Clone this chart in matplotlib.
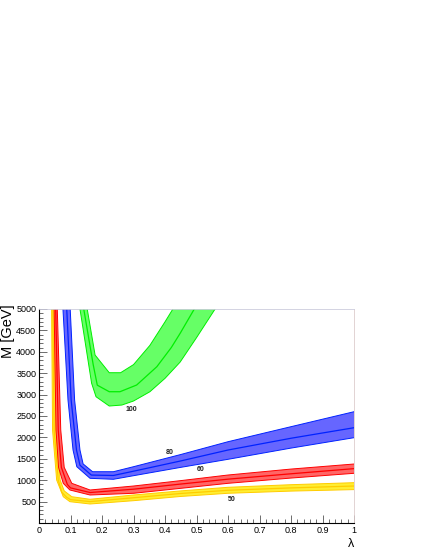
#!/usr/bin/env python3

import matplotlib
matplotlib.use('Agg')
import matplotlib.pyplot as plt
from matplotlib.ticker import MultipleLocator, FixedLocator

# lambda, M [GeV] points: outer edge, central line, inner edge

# M = 50
lam_50_lo = [0.040, 0.043, 0.056, 0.077, 0.098, 0.162, 0.30, 0.45, 0.60, 0.80, 1.00]
m_50_lo = [5000, 2172, 1004, 614, 498, 444, 521, 620, 694, 745, 780]
lam_50_c = [0.044, 0.048, 0.061, 0.072, 0.088, 0.100, 0.162, 0.30, 0.45, 0.60, 0.80, 1.00]
m_50_c = [5000, 2172, 1004, 720, 600, 545, 500, 590, 690, 764, 820, 864]
lam_50_hi = [0.048, 0.054, 0.067, 0.080, 0.104, 0.162, 0.30, 0.45, 0.60, 0.80, 1.00]
m_50_hi = [5000, 2172, 1004, 750, 614, 554, 654, 750, 834, 895, 942]

# M = 60
lam_60_lo = [0.048, 0.054, 0.062, 0.077, 0.098, 0.162, 0.30, 0.45, 0.60, 0.80, 1.00]
m_60_lo = [5000, 2172, 1300, 927, 771, 654, 694, 810, 927, 1050, 1161]
lam_60_c = [0.053, 0.061, 0.071, 0.090, 0.100, 0.162, 0.30, 0.45, 0.60, 0.80, 1.00]
m_60_c = [5000, 2172, 1300, 900, 820, 712, 790, 910, 1024, 1150, 1270]
lam_60_hi = [0.058, 0.069, 0.080, 0.104, 0.162, 0.30, 0.45, 0.60, 0.80, 1.00]
m_60_hi = [5000, 2172, 1300, 927, 771, 864, 990, 1121, 1260, 1378]

# M = 80
lam_80_lo = [0.076, 0.092, 0.108, 0.120, 0.162, 0.236, 0.30, 0.45, 0.60, 0.80, 1.00]
m_80_lo = [5000, 2873, 1705, 1315, 1044, 1021, 1105, 1300, 1488, 1750, 1993]
lam_80_c = [0.088, 0.102, 0.119, 0.130, 0.166, 0.236, 0.30, 0.45, 0.60, 0.80, 1.00]
m_80_c = [5000, 2873, 1705, 1350, 1120, 1110, 1210, 1450, 1705, 1980, 2226]
lam_80_hi = [0.099, 0.113, 0.130, 0.140, 0.170, 0.236, 0.30, 0.45, 0.60, 0.80, 1.00]
m_80_hi = [5000, 2873, 1705, 1380, 1198, 1198, 1315, 1600, 1899, 2250, 2600]

# M = 100
lam_100_lo = [0.130, 0.167, 0.181, 0.223, 0.263, 0.30, 0.352, 0.40, 0.448, 0.50, 0.559]
m_100_lo = [5000, 3264, 2950, 2733, 2756, 2850, 3067, 3380, 3760, 4330, 5000]
lam_100_c = [0.142, 0.172, 0.185, 0.223, 0.257, 0.310, 0.374, 0.420, 0.448, 0.493]
m_100_c = [5000, 3700, 3220, 3067, 3067, 3224, 3651, 4100, 4431, 5000]
lam_100_hi = [0.153, 0.178, 0.223, 0.259, 0.300, 0.352, 0.400, 0.425]
m_100_hi = [5000, 3924, 3511, 3511, 3700, 4150, 4700, 5000]

x_ticks = [0, 0.1, 0.2, 0.3, 0.4, 0.5, 0.6, 0.7, 0.8, 0.9, 1.0]
x_labels = ['0', '0.1', '0.2', '0.3', '0.4', '0.5', '0.6', '0.7', '0.8', '0.9', '1']
y_ticks = [500, 1000, 1500, 2000, 2500, 3000, 3500, 4000, 4500, 5000]

bands = [
    # lo, central, hi, fill colour, line colour, label, label position
    ((lam_50_lo, m_50_lo), (lam_50_c, m_50_c), (lam_50_hi, m_50_hi), '#ffee33', '#ffcc00', '50', (0.612, 553)),
    ((lam_60_lo, m_60_lo), (lam_60_c, m_60_c), (lam_60_hi, m_60_hi), '#ff6666', '#ff0000', '60', (0.513, 1254)),
    ((lam_80_lo, m_80_lo), (lam_80_c, m_80_c), (lam_80_hi, m_80_hi), '#6666ff', '#0022ff', '80', (0.414, 1651)),
    ((lam_100_lo, m_100_lo), (lam_100_c, m_100_c), (lam_100_hi, m_100_hi), '#66ff66', '#00ee00', '100', (0.294, 2663)),
]


def plot_bands():
    fig = plt.figure(figsize=(4.25, 5.5), dpi=100)
    ax = fig.add_axes([0.0918, 0.0491, 0.7412, 0.3891])

    for lo, c, hi, fcol, lcol, lab, pos in bands:
        xs = list(lo[0]) + list(hi[0])[::-1]
        ys = list(lo[1]) + list(hi[1])[::-1]
        ax.fill(xs, ys, color=fcol, lw=0)
        ax.plot(lo[0], lo[1], color=lcol, lw=0.7)
        ax.plot(hi[0], hi[1], color=lcol, lw=0.7)
        ax.plot(c[0], c[1], color=lcol, lw=0.9)
        ax.text(pos[0], pos[1], lab, fontsize=5, fontweight='bold', color='#222222',
                ha='center', va='center', family='Liberation Sans')

    ax.set_xlim(0, 1)
    ax.set_ylim(0, 5000)

    ax.xaxis.set_major_locator(FixedLocator(x_ticks))
    ax.xaxis.set_minor_locator(MultipleLocator(0.02))
    ax.set_xticklabels(x_labels)
    ax.yaxis.set_major_locator(FixedLocator(y_ticks))
    ax.yaxis.set_minor_locator(MultipleLocator(100))

    ax.tick_params(which='both', direction='in', top=False, right=False,
                   labelsize=6.5, width=0.6, color='#555555', pad=2)
    ax.tick_params(which='major', length=6)
    ax.tick_params(which='minor', length=3)
    for lbl in ax.get_xticklabels() + ax.get_yticklabels():
        lbl.set_family('Liberation Sans')

    ax.spines['left'].set_linewidth(0.8)
    ax.spines['bottom'].set_linewidth(0.8)
    ax.spines['top'].set_color('#ccccdd')
    ax.spines['right'].set_color('#ddcccc')
    ax.spines['top'].set_linewidth(0.6)
    ax.spines['right'].set_linewidth(0.6)

    fig.text(0.018, 0.446, 'M [GeV]', rotation=90, ha='center', va='top',
             fontsize=10.5, family='Liberation Sans')
    fig.text(0.825, 0.0, '\u03bb', ha='center', va='bottom', fontsize=9,
             family='Liberation Sans')

    fig.savefig('out.png', dpi=100)


if __name__ == '__main__':
    plot_bands()
